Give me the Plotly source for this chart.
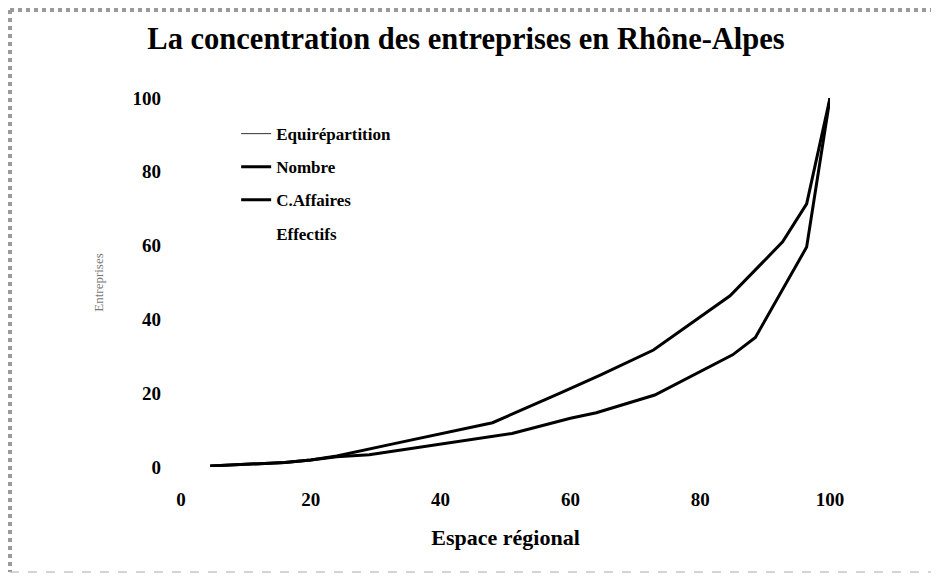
import plotly.graph_objects as go

# Data (Lorenz-type concentration curves)
nombre_x = [4.5, 16, 20, 24, 32.5, 40, 48, 58.4, 64.6, 72.8, 84.6, 92.7, 96.4, 100]
nombre_y = [0.3, 1.2, 1.9, 3.0, 6.2, 9.0, 12.0, 20.0, 24.9, 31.7, 46.4, 61.0, 71.3, 100]

caff_x = [4.5, 16, 20, 24, 29, 41, 51, 60, 64, 73, 85, 88.5, 96.4, 100]
caff_y = [0.3, 1.2, 1.9, 2.8, 3.3, 6.4, 9.1, 13.2, 14.7, 19.5, 30.4, 35.1, 59.6, 100]

# Series listed in the legend but not visible on the scanned chart
equi_x = [None]
equi_y = [None]
eff_x = [None]
eff_y = [None]

x_ticks = [0, 20, 40, 60, 80, 100]
y_ticks = [0, 20, 40, 60, 80, 100]

title_text = "La concentration des entreprises en Rhône-Alpes"
x_title = "Espace régional"
y_title = "Entreprises"

FONT = "Liberation Serif"

fig = go.Figure()
fig.add_trace(go.Scatter(x=equi_x, y=equi_y, mode="lines", name="Equirépartition",
                         line=dict(color="#333333", width=1), legendgroup="a"))
fig.add_trace(go.Scatter(x=nombre_x, y=nombre_y, mode="lines", name="Nombre",
                         line=dict(color="black", width=3), legendgroup="b"))
fig.add_trace(go.Scatter(x=caff_x, y=caff_y, mode="lines", name="C.Affaires",
                         line=dict(color="black", width=3), legendgroup="c"))
fig.add_trace(go.Scatter(x=eff_x, y=eff_y, mode="lines", name="Effectifs",
                         line=dict(color="rgba(0,0,0,0)", width=0), legendgroup="d"))

fig.update_layout(
    width=931, height=569,
    margin=dict(l=173, r=109, t=90, b=110),
    paper_bgcolor="white", plot_bgcolor="white",
    font=dict(family=FONT, color="black"),
    title=dict(text=title_text, x=0.492, xanchor="center",
               y=0.947, yanchor="middle",
               font=dict(size=30.5, family=FONT, weight="bold")),
    showlegend=True,
    legend=dict(x=0.085, y=0.951, xanchor="left", yanchor="top",
                bgcolor="rgba(0,0,0,0)", borderwidth=0,
                font=dict(size=17, family=FONT, color="black", weight="bold"),
                traceorder="grouped", tracegroupgap=8),
    xaxis=dict(range=[0, 100], tickvals=x_ticks, ticktext=[str(v) for v in x_ticks],
               showgrid=False, zeroline=False, showline=False, ticks="",
               ticklabelstandoff=19,
               tickfont=dict(size=19, family=FONT, color="black", weight="bold"),
               title=dict(text=x_title, standoff=20,
                          font=dict(size=22, family=FONT, weight="bold"))),
    yaxis=dict(range=[0, 100], tickvals=y_ticks, ticktext=[str(v) for v in y_ticks],
               showgrid=False, zeroline=False, showline=False, ticks="",
               ticklabelstandoff=19,
               tickfont=dict(size=19, family=FONT, color="black", weight="bold"),
               title=dict(text=y_title, standoff=25,
                          font=dict(size=13, family=FONT, color="#777777"))),
)

fig.update_traces(cliponaxis=False)

# Dotted scan border (paper-relative, outside the plot area)
border = dict(color="#9a9a9a", width=4, dash="dot")
fig.add_shape(type="line", xref="paper", yref="paper", x0=-0.2635, x1=1.168,
              y0=1.2385, y1=1.2385, line=border)
fig.add_shape(type="line", xref="paper", yref="paper", x0=-0.2635, x1=-0.2635,
              y0=1.2385, y1=-0.2846, line=border)
fig.add_shape(type="line", xref="paper", yref="paper", x0=-0.2635, x1=1.168,
              y0=-0.2846, y1=-0.2846, line=dict(color="#aaaaaa", width=1, dash="dash"))

fig.write_html("out.html")
